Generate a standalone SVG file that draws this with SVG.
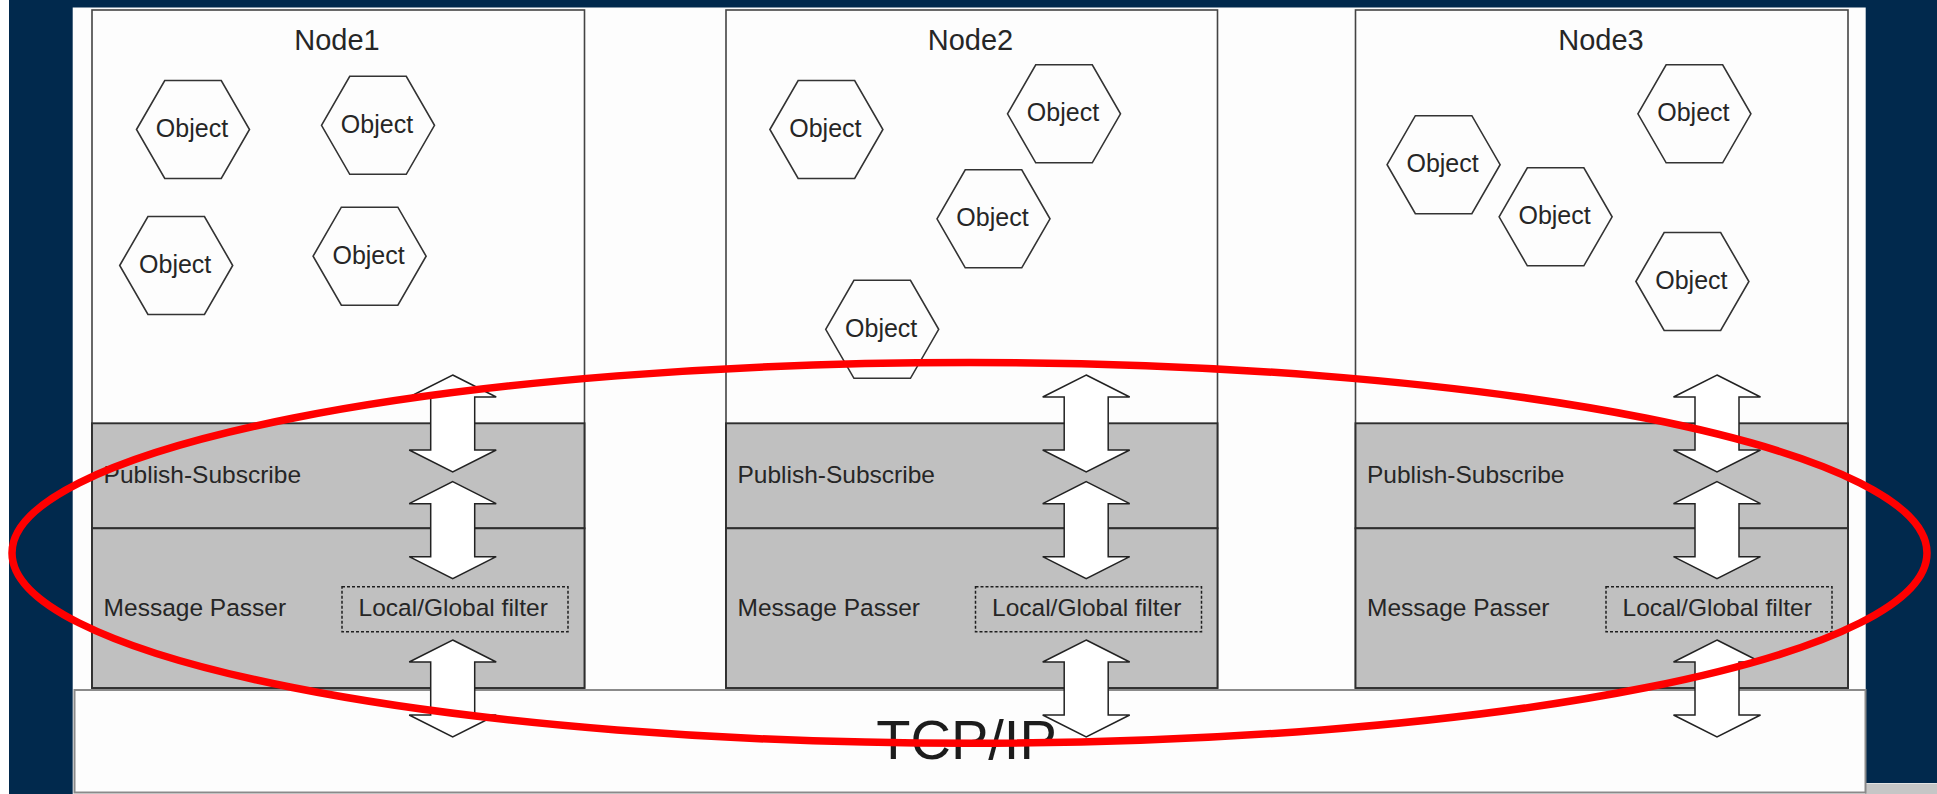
<svg xmlns="http://www.w3.org/2000/svg" xmlns:xlink="http://www.w3.org/1999/xlink" width="1937" height="794" viewBox="0 0 1937 794">
  <style>
    .box { fill: #fdfdfd; stroke: #444; stroke-width: 1.6; }
    .band { fill: #c0c0c0; stroke: #2e2e2e; stroke-width: 1.9; }
    .hex { fill: #fdfdfd; stroke: #333; stroke-width: 1.6; }
    .filter { fill: none; stroke: #1e1e1e; stroke-width: 1.5; stroke-dasharray: 3 2; }
    .arrow { fill: #ffffff; stroke: #222; stroke-width: 1.5; stroke-linejoin: miter; }
    text { font-family: "Liberation Sans", Arial, Helvetica, sans-serif; fill: #262626; }
    .title { font-size: 29px; text-anchor: middle; }
    .obj { font-size: 25px; text-anchor: middle; }
    .lbl { font-size: 24.5px; }
    .tcp { font-size: 56px; text-anchor: middle; fill: #1c1c1c; }
  </style>
  <defs>
    <polygon id="hex" points="-56.5,0 -28.25,-49 28.25,-49 56.5,0 28.25,49 -28.25,49"/>
    <path id="darrow" d="M0,0 L43.5,22 L22,22 L22,75 L43.5,75 L0,97 L-43.5,75 L-22,75 L-22,22 L-43.5,22 Z"/>
  </defs>

  <!-- background -->
  <rect x="0" y="0" width="1937" height="794" fill="#01294d"/>
  <rect x="0" y="0" width="9" height="794" fill="#ffffff"/>
  <rect x="72.7" y="7.5" width="1793" height="786.5" fill="#fdfdfd"/>
  <rect x="1865.5" y="783" width="71.5" height="11" fill="#c6c6c6"/>
  <line x1="1865.5" y1="783.5" x2="1937" y2="783.5" stroke="#e2e2e2" stroke-width="1"/>

  <!-- TCP/IP layer -->
  <g id="tcpip">
    <rect x="74.5" y="690" width="1791" height="102.5" fill="#fdfdfd" stroke="#8a8a8a" stroke-width="2"/>
  </g>

  <!-- Node1 -->
  <g id="node1">
    <rect class="box" x="92" y="10" width="492.5" height="678"/>
    <rect class="band" x="92" y="423.3" width="492.5" height="105"/>
    <rect class="band" x="92" y="528.3" width="492.5" height="159.7"/>
    <text class="title" x="337" y="50">Node1</text>
    <text class="lbl" x="103.6" y="483.3">Publish-Subscribe</text>
    <text class="lbl" x="103.6" y="615.7">Message Passer</text>
    <rect class="filter" x="342" y="586.7" width="226" height="45"/>
    <text class="lbl" x="358.6" y="615.7">Local/Global filter</text>
    <g id="node1-obj1"><use href="#hex" class="hex" x="193" y="129.5"/><text class="obj" x="192" y="137">Object</text></g>
    <g id="node1-obj2"><use href="#hex" class="hex" x="378" y="125.3"/><text class="obj" x="377" y="132.8">Object</text></g>
    <g id="node1-obj3"><use href="#hex" class="hex" x="176.2" y="265.5"/><text class="obj" x="175.2" y="273">Object</text></g>
    <g id="node1-obj4"><use href="#hex" class="hex" x="369.6" y="256.2"/><text class="obj" x="368.6" y="263.7">Object</text></g>
  </g>

  <!-- Node2 -->
  <g id="node2">
    <rect class="box" x="726" y="10" width="491.5" height="678"/>
    <rect class="band" x="726" y="423.3" width="491.5" height="105"/>
    <rect class="band" x="726" y="528.3" width="491.5" height="159.7"/>
    <text class="title" x="970.5" y="50">Node2</text>
    <text class="lbl" x="737.5" y="483.3">Publish-Subscribe</text>
    <text class="lbl" x="737.5" y="615.7">Message Passer</text>
    <rect class="filter" x="975.5" y="586.7" width="226" height="45"/>
    <text class="lbl" x="992" y="615.7">Local/Global filter</text>
    <g id="node2-obj1"><use href="#hex" class="hex" x="826.4" y="129.5"/><text class="obj" x="825.4" y="137">Object</text></g>
    <g id="node2-obj2"><use href="#hex" class="hex" x="1064" y="113.8"/><text class="obj" x="1063" y="121.3">Object</text></g>
    <g id="node2-obj3"><use href="#hex" class="hex" x="993.5" y="218.8"/><text class="obj" x="992.5" y="226.3">Object</text></g>
    <g id="node2-obj4"><use href="#hex" class="hex" x="882.2" y="329.3"/><text class="obj" x="881.2" y="336.8">Object</text></g>
  </g>

  <!-- Node3 -->
  <g id="node3">
    <rect class="box" x="1355.5" y="10" width="492.5" height="678"/>
    <rect class="band" x="1355.5" y="423.3" width="492.5" height="105"/>
    <rect class="band" x="1355.5" y="528.3" width="492.5" height="159.7"/>
    <text class="title" x="1601" y="50">Node3</text>
    <text class="lbl" x="1367" y="483.3">Publish-Subscribe</text>
    <text class="lbl" x="1367" y="615.7">Message Passer</text>
    <rect class="filter" x="1606" y="586.7" width="226" height="45"/>
    <text class="lbl" x="1622.5" y="615.7">Local/Global filter</text>
    <g id="node3-obj1"><use href="#hex" class="hex" x="1443.6" y="164.7"/><text class="obj" x="1442.6" y="172.2">Object</text></g>
    <g id="node3-obj2"><use href="#hex" class="hex" x="1694.4" y="113.8"/><text class="obj" x="1693.4" y="121.3">Object</text></g>
    <g id="node3-obj3"><use href="#hex" class="hex" x="1555.6" y="216.8"/><text class="obj" x="1554.6" y="224.3">Object</text></g>
    <g id="node3-obj4"><use href="#hex" class="hex" x="1692.4" y="281.5"/><text class="obj" x="1691.4" y="289">Object</text></g>
  </g>

  <!-- connectors: double-headed block arrows -->
  <g id="connectors">
    <use href="#darrow" class="arrow" x="452.7" y="375"/>
    <use href="#darrow" class="arrow" x="452.7" y="481.7"/>
    <use href="#darrow" class="arrow" x="452.7" y="640"/>
    <use href="#darrow" class="arrow" x="1086.2" y="375"/>
    <use href="#darrow" class="arrow" x="1086.2" y="481.7"/>
    <use href="#darrow" class="arrow" x="1086.2" y="640"/>
    <use href="#darrow" class="arrow" x="1717" y="375"/>
    <use href="#darrow" class="arrow" x="1717" y="481.7"/>
    <use href="#darrow" class="arrow" x="1717" y="640"/>
  </g>

  <text class="tcp" x="966.5" y="759">TCP/IP</text>

  <!-- highlight ellipse -->
  <g id="highlight">
    <ellipse cx="969.5" cy="552.9" rx="957.5" ry="190.4" fill="none" stroke="#ff0000" stroke-width="7.5"/>
  </g>
</svg>
